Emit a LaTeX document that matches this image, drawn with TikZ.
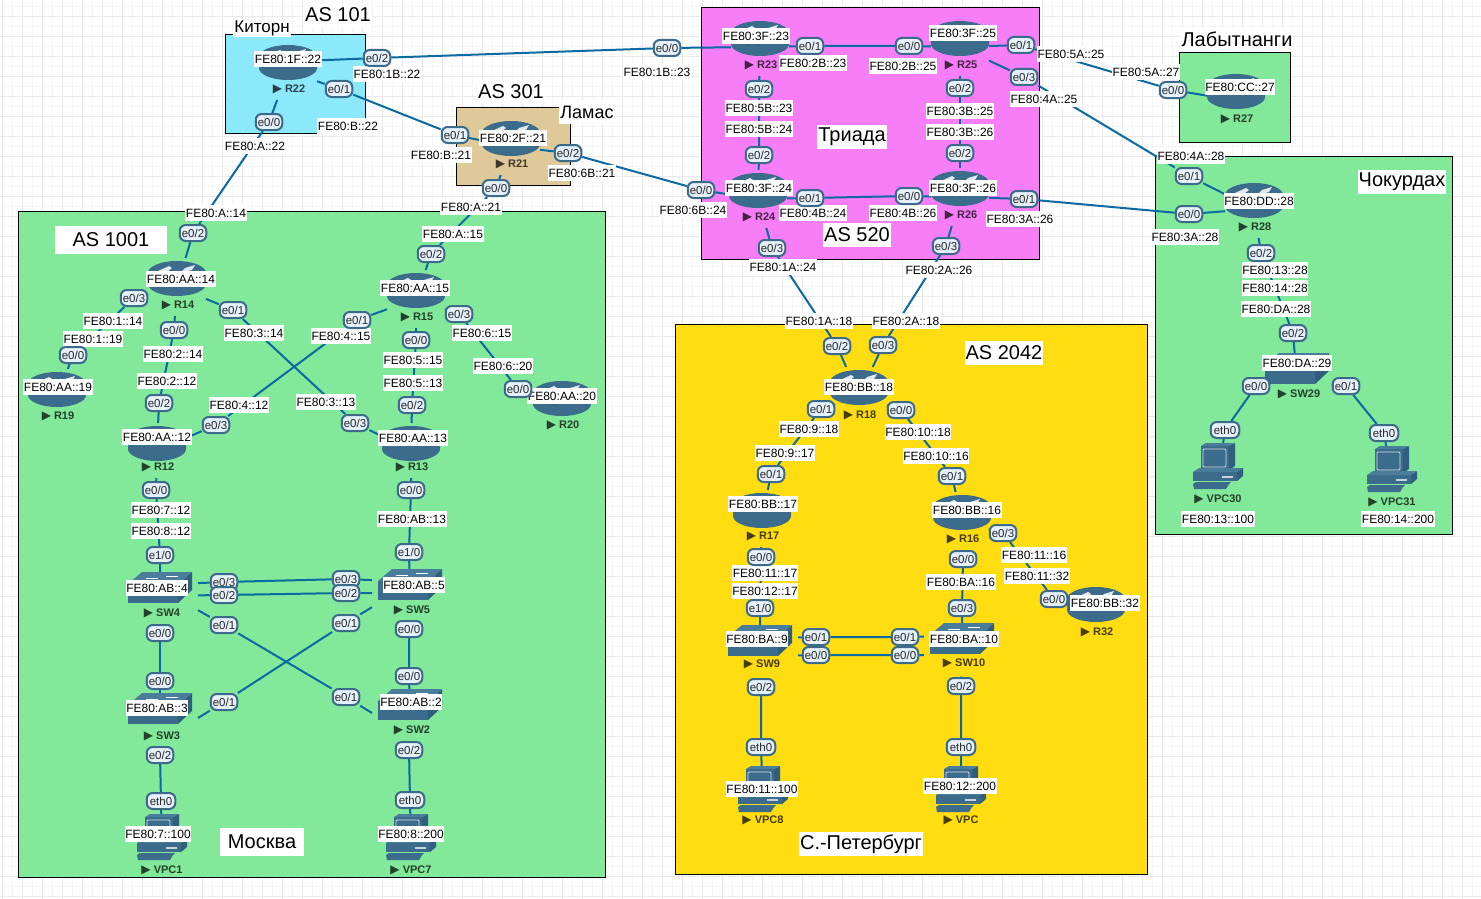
\documentclass[tikz,border=0pt]{standalone}
\usepackage{fontspec}
\setmainfont{Liberation Sans}
\newfontfamily\symfont{DejaVu Sans}
\usepackage{color}
\definecolor{devcol}{HTML}{3B6C8C}
\definecolor{devtop}{HTML}{4A7C9C}
\definecolor{devside}{HTML}{2F5E7E}
\definecolor{linkcol}{HTML}{0B6AA2}
\definecolor{gridmaj}{HTML}{EAEAEC}
\definecolor{gridmin}{HTML}{F5F5F6}
\definecolor{cyanbox}{HTML}{8CE9FB}
\definecolor{tanbox}{HTML}{DFC998}
\definecolor{pinkbox}{HTML}{F77EF7}
\definecolor{greenbox}{HTML}{82E89A}
\definecolor{yellowbox}{HTML}{FFDD11}
\definecolor{portfill}{HTML}{E6F1FB}
\definecolor{portline}{HTML}{3C6A8A}
\usetikzlibrary{positioning}
\pgfdeclarelayer{boxes}
\pgfdeclarelayer{links}
\pgfsetlayers{boxes,links,main}
\tikzset{
routerpic/.pic={
\fill[devcol] (-29,-5) -- (-29,6) arc[start angle=180,end angle=360,x radius=29,y radius=-12] -- (29,-5) -- cycle;
\fill[devcol] (0,-5) ellipse[x radius=29,y radius=12];
\fill[white!85!devcol] (-19,-7) -- (-8,-12) -- (-5,-10) -- (-10,-6) -- cycle;
\fill[white!85!devcol] (3,-5) -- (8,-10) -- (18,-13) -- (15,-8) -- cycle;
},
switchpic/.pic={
\fill[devside] (18,-3) -- (32,-15) -- (32,3) -- (18,16) -- cycle;
\fill[devcol] (-32,-3) rectangle (18,16);
\fill[devtop] (-32,-3) -- (-18,-15) -- (32,-15) -- (18,-3) -- cycle;
\draw[white,line width=.8pt] (-14,-9) -- (-2,-9) (6,-11) -- (18,-11);
},
vpcpic/.pic={
\fill[devside] (11,-21) -- (17,-24) -- (17,-1) -- (11,3) -- cycle;
\fill[devtop] (-17,-21) -- (-12,-24) -- (17,-24) -- (11,-21) -- cycle;
\fill[devcol] (-17,-21) rectangle (11,3);
\draw[white!80!devcol,rounded corners=1pt,line width=.8pt] (-15,-18) rectangle (8,0);
\fill[devside] (19,5) -- (25,1) -- (25,9) -- (19,14) -- cycle;
\fill[devtop] (-25,5) -- (-19,1) -- (25,1) -- (19,5) -- cycle;
\fill[devcol] (-25,5) rectangle (19,14);
\fill[white!70!devcol] (4,9) rectangle (15,11);
\fill[devcol] (-25,17) -- (-22,15) -- (13,15) -- (11,17) -- (8,22) -- (-24,22) -- cycle;
}
}
\begin{document}
\begin{tikzpicture}[x=1pt,y=-1pt,font=\fontsize{12}{14}\selectfont]
\tikzstyle{netbox}=[draw=black,line width=1pt]
\tikzstyle{devbox}=[inner sep=0pt,outer sep=0pt]
\tikzstyle{devlabel}=[inner sep=0pt,text=black,text opacity=.72,font=\fontsize{11}{13}\selectfont\bfseries]
\tikzstyle{port}=[draw=portline,fill=portfill,line width=2pt,rounded corners=6pt,inner sep=0pt,minimum width=26.5pt,minimum height=16pt,text=black!85,font=\fontsize{11.5}{13}\selectfont]
\tikzstyle{addr}=[fill=white,inner xsep=.5pt,inner ysep=0pt,minimum height=16pt]
\tikzstyle{title}=[fill=white,inner xsep=1pt,inner ysep=0pt,minimum height=24pt,font=\fontsize{20}{22}\selectfont]
\tikzstyle{link}=[draw=linkcol,line width=2pt]
\useasboundingbox (0,0) rectangle (1481,899);

\begin{pgfonlayer}{boxes}
\fill[white] (0,0) rectangle (1481,899);
\foreach \g in {12,32,...,1481} \draw[gridmin,line width=1pt] (\g,0) -- (\g,899);
\foreach \g in {6.7,26.7,...,899} \draw[gridmin,line width=1pt] (0,\g) -- (1481,\g);
\foreach \g in {2,22,...,1481} \draw[gridmaj,line width=1pt] (\g,0) -- (\g,899);
\foreach \g in {16.7,36.7,...,899} \draw[gridmaj,line width=1pt] (0,\g) -- (1481,\g);
\draw[netbox,fill=cyanbox] (225.5,34.5) rectangle (365.5,133.5);
\draw[netbox,fill=tanbox] (456.5,107.5) rectangle (570.5,185.5);
\draw[netbox,fill=pinkbox] (701.5,7.5) rectangle (1039.5,259.5);
\draw[netbox,fill=greenbox] (1179.5,52.5) rectangle (1290.5,142.5);
\draw[netbox,fill=greenbox] (1155.5,156.5) rectangle (1452.5,534.5);
\draw[netbox,fill=greenbox] (18.5,211.5) rectangle (605.5,877.5);
\draw[netbox,fill=yellowbox] (675.5,324.5) rectangle (1147.5,874.5);
\end{pgfonlayer}

% routers
\foreach \n/\x/\y/\lab/\ly in {r22/288/62/R22/89,r21/511/138/R21/164,r23/760/38/R23/65,r25/960/38/R25/65,
r24/758/190/R24/217,r26/960/188/R26/215,r27/1236/91/R27/119,r28/1254/200/R28/227,r14/177/278/R14/305,
r15/416/290/R15/317,r19/57/389/R19/416,r20/562/398/R20/425,r12/157/443/R12/467,r13/411/443/R13/467,
r18/859/387/R18/415,r17/762/510/R17/536,r16/962/512/R16/539,r32/1096/604/R32/632}{
\pic at (\x,\y) {routerpic};
\node[devbox,minimum width=58pt,minimum height={\ly+31-\y}] (\n) at (\x,{(\y+\ly-9)/2}) {};
\node[devlabel] (\n lab) at (\x+1,\ly) {{\symfont\fontsize{12}{12}\selectfont▶}\ \lab};
}
% switches
\foreach \n/\x/\y/\lab/\ly in {sw4/160/587/SW4/613,sw5/410/584/SW5/610,sw3/160/708/SW3/736,sw2/410/704/SW2/730,
sw9/760/640/SW9/664,sw10/962/638/SW10/663,sw29/1297/368/SW29/394}{
\pic at (\x,\y) {switchpic};
\node[devbox,minimum width=76pt,minimum height=52pt] (\n) at (\x,{(\y+\ly)/2}) {};
\node[devlabel] (\n lab) at (\x+2,\ly) {{\symfont\fontsize{12}{12}\selectfont▶}\ \lab};
}
% vpcs
\foreach \n/\x/\y/\lab/\ly in {vpc1/162/838/VPC1/870,vpc7/411/838/VPC7/870,vpc8/763/790/VPC8/820,vpcb/961/790/VPC/820,
vpc30/1218/467/VPC30/499,vpc31/1392/470/VPC31/502}{
\pic at (\x,\y) {vpcpic};
\node[devbox,minimum width=56pt,minimum height=60pt] (\n) at (\x,{(\y+\ly)/2-4}) {};
\node[devlabel] (\n lab) at (\x,\ly) {{\symfont\fontsize{12}{12}\selectfont▶}\ \lab};
}

% addresses
\foreach \x/\y/\lab [count=\i] in {288/59/FE80:1F::22,387/74/FE80:1B::22,348/126/FE80:B::22,255/146/FE80:A::22,
441/155/FE80:B::21,513/138/FE80:2F::21,582/173/FE80:6B::21,471/207/FE80:A::21,453/234/FE80:A::15,
657/72/FE80:1B::23,756/36/FE80:3F::23,813/63/FE80:2B::23,903/66/FE80:2B::25,963/33/FE80:3F::25,
1071/54/FE80:5A::25,1044/99/FE80:4A::25,1146/72/FE80:5A::27,1240/87/FE80:CC::27,1191/156/FE80:4A::28,
759/108/FE80:5B::23,759/129/FE80:5B::24,960/111/FE80:3B::25,960/132/FE80:3B::26,759/188/FE80:3F::24,
813/213/FE80:4B::24,693/210/FE80:6B::24,903/213/FE80:4B::26,963/188/FE80:3F::26,1020/219/FE80:3A::26,
1185/237/FE80:3A::28,1259/201/FE80:DD::28,783/267/FE80:1A::24,939/270/FE80:2A::26,
1275/270/FE80:13::28,1275/288/FE80:14::28,1276/309/FE80:DA::28,1297/363/FE80:DA::29,1218/519/FE80:13::100,1398/519/FE80:14::200,
216/213/FE80:A::14,181/279/FE80:AA::14,113/321/FE80:1::14,93/339/FE80:1::19,58/387/FE80:AA::19,254/333/FE80:3::14,
173/354/FE80:2::14,167/381/FE80:2::12,341/336/FE80:4::15,415/288/FE80:AA::15,482/333/FE80:6::15,413/360/FE80:5::15,
413/383/FE80:5::13,503/366/FE80:6::20,562/396/FE80:AA::20,239/405/FE80:4::12,326/402/FE80:3::13,157/437/FE80:AA::12,
413/438/FE80:AA::13,161/510/FE80:7::12,161/531/FE80:8::12,412/519/FE80:AB::13,157/588/FE80:AB::4,414/585/FE80:AB::5,
157/708/FE80:AB::3,411/702/FE80:AB::2,158/834/FE80:7::100,411/834/FE80:8::200,
819/321/FE80:1A::18,906/321/FE80:2A::18,859/387/FE80:BB::18,809/429/FE80:9::18,918/432/FE80:10::18,785/453/FE80:9::17,
936/456/FE80:10::16,763/504/FE80:BB::17,967/510/FE80:BB::16,1034/555/FE80:11::16,765/573/FE80:11::17,765/591/FE80:12::17,
1037/576/FE80:11::32,1105/603/FE80:BB::32,961/582/FE80:BA::16,757/639/FE80:BA::9,964/639/FE80:BA::10,762/789/FE80:11::100,960/786/FE80:12::200}{
\node[addr] (addr\i) at (\x,\y) {\lab};
}

% ports
\node[port] (r22e02) at (377,58) {e0/2};
\node[port] (r22e01) at (339,89) {e0/1};
\node[port] (r22e00) at (269,122) {e0/0};
\node[port] (r21e01) at (455,135) {e0/1};
\node[port] (r21e02) at (568,153) {e0/2};
\node[port] (r21e00) at (496,188) {e0/0};
\node[port] (r23e00) at (667,48) {e0/0};
\node[port] (r23e01) at (810,46) {e0/1};
\node[port] (r23e02) at (759,89) {e0/2};
\node[port] (r25e00) at (909,46) {e0/0};
\node[port] (r25e01) at (1021,45) {e0/1};
\node[port] (r25e03) at (1024,77) {e0/3};
\node[port] (r25e02) at (960,88) {e0/2};
\node[port] (r24e00) at (701,190) {e0/0};
\node[port] (r24e01) at (810,198) {e0/1};
\node[port] (r24e02) at (759,155) {e0/2};
\node[port] (r24e03) at (772,248) {e0/3};
\node[port] (r26e00) at (909,196) {e0/0};
\node[port] (r26e01) at (1024,199) {e0/1};
\node[port] (r26e02) at (960,153) {e0/2};
\node[port] (r26e03) at (946,246) {e0/3};
\node[port] (r27e00) at (1173,90) {e0/0};
\node[port] (r28e01) at (1189,176) {e0/1};
\node[port] (r28e00) at (1189,214) {e0/0};
\node[port] (r28e02) at (1261,253) {e0/2};
\node[port] (sw29e02) at (1293,333) {e0/2};
\node[port] (sw29e00) at (1256,386) {e0/0};
\node[port] (sw29e01) at (1346,386) {e0/1};
\node[port,minimum width=28.5pt] (vpc30e) at (1225,430) {eth0};
\node[port,minimum width=28.5pt] (vpc31e) at (1384,433) {eth0};
\node[port] (r14e02) at (193,233) {e0/2};
\node[port] (r14e03) at (134,298) {e0/3};
\node[port] (r14e01) at (233,310) {e0/1};
\node[port] (r14e00) at (174,330) {e0/0};
\node[port] (r19e00) at (73,355) {e0/0};
\node[port] (r15e02) at (431,254) {e0/2};
\node[port] (r15e01) at (357,320) {e0/1};
\node[port] (r15e03) at (459,314) {e0/3};
\node[port] (r15e00) at (416,340) {e0/0};
\node[port] (r20e00) at (518,389) {e0/0};
\node[port] (r12e02) at (159,403) {e0/2};
\node[port] (r12e03) at (216,425) {e0/3};
\node[port] (r12e00) at (156,490) {e0/0};
\node[port] (r13e03) at (355,423) {e0/3};
\node[port] (r13e02) at (412,405) {e0/2};
\node[port] (r13e00) at (411,490) {e0/0};
\node[port] (sw4e10) at (160,555) {e1/0};
\node[port] (sw4e03) at (224,582) {e0/3};
\node[port] (sw4e02) at (224,595) {e0/2};
\node[port] (sw4e01) at (224,625) {e0/1};
\node[port] (sw4e00) at (160,633) {e0/0};
\node[port] (sw5e10) at (409,552) {e1/0};
\node[port] (sw5e03) at (346,579) {e0/3};
\node[port] (sw5e02) at (346,593) {e0/2};
\node[port] (sw5e01) at (346,623) {e0/1};
\node[port] (sw5e00) at (409,629) {e0/0};
\node[port] (sw3e00) at (160,681) {e0/0};
\node[port] (sw3e01) at (224,702) {e0/1};
\node[port] (sw3e02) at (160,755) {e0/2};
\node[port] (sw2e00) at (409,676) {e0/0};
\node[port] (sw2e01) at (346,697) {e0/1};
\node[port] (sw2e02) at (409,750) {e0/2};
\node[port,minimum width=28.5pt] (vpc1e) at (161,801) {eth0};
\node[port,minimum width=28.5pt] (vpc7e) at (410,800) {eth0};
\node[port] (r18e02) at (837,346) {e0/2};
\node[port] (r18e03) at (883,345) {e0/3};
\node[port] (r18e01) at (821,409) {e0/1};
\node[port] (r18e00) at (901,410) {e0/0};
\node[port] (r17e01) at (771,474) {e0/1};
\node[port] (r17e00) at (761,557) {e0/0};
\node[port] (r16e01) at (952,476) {e0/1};
\node[port] (r16e03) at (1003,533) {e0/3};
\node[port] (r16e00) at (963,559) {e0/0};
\node[port] (r32e00) at (1054,599) {e0/0};
\node[port] (sw9e10) at (760,608) {e1/0};
\node[port] (sw9e01) at (816,637) {e0/1};
\node[port] (sw9e00) at (816,655) {e0/0};
\node[port] (sw9e02) at (761,687) {e0/2};
\node[port] (sw10e03) at (962,608) {e0/3};
\node[port] (sw10e01) at (905,637) {e0/1};
\node[port] (sw10e00) at (905,655) {e0/0};
\node[port] (sw10e02) at (961,686) {e0/2};
\node[port,minimum width=28.5pt] (vpc8e) at (761,747) {eth0};
\node[port,minimum width=28.5pt] (vpcbe) at (961,747) {eth0};

% links
\begin{pgfonlayer}{links}
\foreach \a/\p/\q/\b in {r22.20/r22e02/r23e00/r23,r22/r22e01/r21e01/r21,r22/r22e00/r14e02/r14,r21/r21e02/r24e00/r24,
r21/r21e00/r15e02/r15,r23/r23e01/r25e00/r25,r23/r23e02/r24e02/r24,r25/r25e01/r27e00/r27,r25/r25e03/r28e01/r28,
r25/r25e02/r26e02/r26,r24/r24e01/r26e00/r26,r26/r26e01/r28e00/r28,r24/r24e03/r18e02/r18,r26/r26e03/r18e03/r18,
r28/r28e02/sw29e02/sw29,sw29/sw29e00/vpc30e/vpc30,sw29/sw29e01/vpc31e/vpc31,r14/r14e03/r19e00/r19,r14/r14e01/r13e03/r13,
r14/r14e00/r12e02/r12,r15/r15e01/r12e03/r12,r15/r15e03/r20e00/r20,r15/r15e00/r13e02/r13,r12/r12e00/sw4e10/sw4,
r13/r13e00/sw5e10/sw5,sw4.24/sw4e03/sw5e03/sw5.156,sw4.7/sw4e02/sw5e02/sw5.174,sw4.-15/sw4e01/sw2e01/sw2.174,sw5.195/sw5e01/sw3e01/sw3.6,
sw4/sw4e00/sw3e00/sw3,sw5/sw5e00/sw2e00/sw2,sw3/sw3e02/vpc1e/vpc1,sw2/sw2e02/vpc7e/vpc7,r18/r18e01/r17e01/r17,
r18/r18e00/r16e01/r16,r16/r16e03/r32e00/r32,r17/r17e00/sw9e10/sw9,r16/r16e00/sw10e03/sw10,sw9.21/sw9e01/sw10e01/sw10.160,
sw9.-5/sw9e00/sw10e00/sw10.187,sw9/sw9e02/vpc8e/vpc8,sw10/sw10e02/vpcbe/vpcb}{
\draw[link] (\a) -- (\p) -- (\q) -- (\b);
}
\end{pgfonlayer}

% titles
\node[title] (as101) at (338,15) {AS 101};
\node[title,font=\fontsize{17}{19}\selectfont,minimum height=18pt] (kitorn) at (262,28) {Киторн};
\node[title] (as301) at (511,92) {AS 301};
\node[title,font=\fontsize{18}{20}\selectfont] (lamas) at (587,112) {Ламас};
\node[title] (triada) at (852,137) {Триада};
\node[title] (as520) at (857,235) {AS 520};
\node[title] (labyt) at (1237,39) {Лабытнанги};
\node[title] (chok) at (1402,182) {Чокурдах};
\node[title,minimum width=112pt,minimum height=28pt] (as1001) at (111,240) {AS 1001};
\node[title,minimum width=84pt,minimum height=28pt] (moskva) at (262,842) {Москва};
\node[title] (as2042) at (1004,353) {AS 2042};
\node[title] (spb) at (861,844) {С.-Петербург};
\end{tikzpicture}
\end{document}
